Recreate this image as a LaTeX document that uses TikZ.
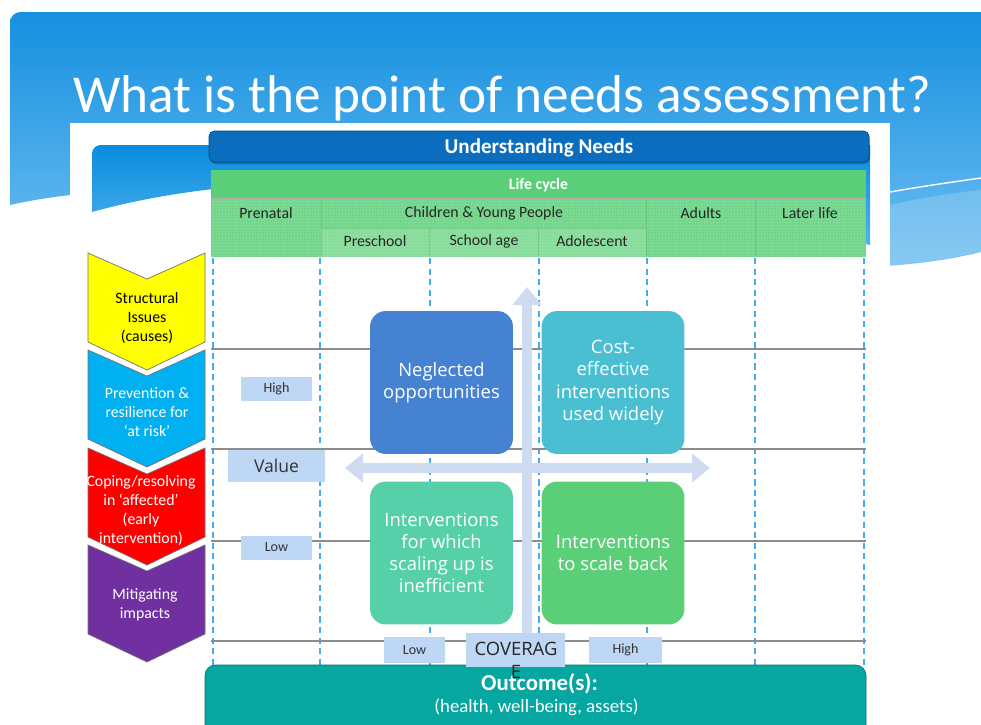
\documentclass[tikz,border=0pt]{standalone}
\usepackage{fontspec}
\setmainfont{Carlito}
\newfontfamily\quadfont{Open Sans}
\usepackage{tikz}
\usetikzlibrary{arrows.meta}
\definecolor{bgtop}{HTML}{1590E0}
\definecolor{bgbot}{HTML}{82C8F4}
\definecolor{innertop}{HTML}{0A8CDF}
\definecolor{innerbot}{HTML}{52B3EE}
\definecolor{headblue}{HTML}{0A6DBD}
\definecolor{lifegreen}{HTML}{5BCF78}
\definecolor{cellgreen}{HTML}{70D588}
\definecolor{subgreen}{HTML}{84DC98}
\definecolor{stageblue}{HTML}{45AAF2}
\definecolor{levelgray}{HTML}{8C8C8C}
\definecolor{chevyellow}{HTML}{FFFF00}
\definecolor{chevblue}{HTML}{00B0F0}
\definecolor{chevred}{HTML}{FF0000}
\definecolor{chevpurple}{HTML}{7030A0}
\definecolor{tagblue}{HTML}{BDD7F5}
\definecolor{neglect}{HTML}{4682D2}
\definecolor{costeff}{HTML}{4BBFD2}
\definecolor{ineff}{HTML}{55D0A8}
\definecolor{scaleback}{HTML}{5BCF78}
\definecolor{axisblue}{HTML}{CFDBF0}
\definecolor{outcome}{HTML}{06A6A1}
\tikzset{>=latex,
  stage/.style={stageblue, line width=0.9pt, dash pattern=on 3.5pt off 2.5pt},
  level/.style={levelgray, line width=1pt},
  cell/.style={font=\fontsize{9}{11}\selectfont, text=black!85},
  chevtext/.style={align=center, font=\fontsize{9}{10.8}\selectfont},
  tag/.style={fill=tagblue, inner sep=0pt, minimum width=1.42cm, minimum height=0.48cm,
    font=\fontsize{8}{9}\selectfont, text=black!80},
  quad/.style={rounded corners=9pt, minimum width=2.86cm, minimum height=2.86cm, inner sep=2pt,
    text=white, align=center, font=\quadfont\fontsize{10.5}{12.6}\selectfont},
  axis/.style={axisblue, line width=5.4pt}
}
\begin{document}
\begin{tikzpicture}[x=0.02cm, y=-0.02cm]
\useasboundingbox (0,0) rectangle (981,724);
\fill[white] (0,0) rectangle (981,724);
\shade[top color=bgtop, bottom color=bgbot] (10,205) [rounded corners=6pt]-- (10,12) [sharp corners]-- (981,12) -- (981,252)
  .. controls (700,320) and (300,140) .. (10,205) -- cycle;
\fill[white, opacity=0.18] (890,205) .. controls (930,196) and (960,192) .. (981,190) -- (981,252) .. controls (950,258) and (920,263) .. (890,267) -- cycle;
\draw[white, line width=0.8pt] (890,192) .. controls (930,185) and (960,181) .. (981,178);
\node[white, font=\fontsize{30.3}{36}\selectfont, anchor=base] (title) at (502,112) {What is the point of needs assessment?};
\fill[white] (70,123) rectangle (890,724);
\shade[top color=innertop, bottom color=innerbot] (92,212) [rounded corners=5pt]-- (92,145) [sharp corners]-- (870,145) -- (870,245)
  .. controls (500,165) and (250,168) .. (92,212) -- cycle;
\fill[black, opacity=0.25, rounded corners=3pt] (210,133) rectangle (870,164);
\fill[headblue, draw=headblue!70!black, rounded corners=3pt] (209,131) rectangle (869,162);
\node[white, font=\bfseries\fontsize{12}{14}\selectfont] (understand) at (539,148) {Understanding Needs};
\fill[lifegreen] (211,170) rectangle (866,198);
\node[white, font=\bfseries\fontsize{9}{11}\selectfont] (life) at (538.5,185) {Life cycle};
\fill[cellgreen] (211,198) rectangle (866,257);
\fill[subgreen] (321,228) rectangle (646,257);
\draw[white, opacity=0.1, step=0.06cm] (211,198) grid (866,257);
\draw[green!40!black, opacity=0.15] (321,198) -- (321,257) (646,198) -- (646,257) (755,198) -- (755,257)
  (429,228) -- (429,257) (538,228) -- (538,257) (321,228) -- (646,228);
\draw[black!30, line width=1.2pt] (211,199) -- (866,199);
\node[cell] (prenatal) at (266,213) {Prenatal};
\node[cell] (children) at (484,213) {Children \& Young People};
\node[cell] (adults) at (701,213) {Adults};
\node[cell] (later) at (810,213) {Later life};
\node[cell] (preschool) at (375,241) {Preschool};
\node[cell] (school) at (484,241) {School age};
\node[cell] (adolescent) at (592,241) {Adolescent};
\foreach \x in {213,320,430,539,647,755,864}
  \draw[stage] (\x,258) -- (\x,666);
\foreach \y in {349,449,541,641}
  \draw[level] (211,\y) -- (866,\y);
\foreach \t/\c in {253/chevyellow,350/chevblue,448/chevred,545/chevpurple}
  \filldraw[fill=\c, draw=black!55, line width=0.4pt] (88,\t) -- (147,\t+26) -- (205,\t) -- (205,\t+89) -- (147,\t+117) -- (88,\t+89) -- cycle;
\node[chevtext] (structural) at (147,318) {Structural\\Issues\\(causes)};
\node[chevtext, white] (prevention) at (147,412) {Prevention \&\\resilience for\\‘at risk’};
\node[chevtext, white] (coping) at (141,511) {Coping/resolving\\in ‘affected’\\(early\\intervention)};
\node[chevtext, white] (mitigating) at (145,605) {Mitigating\\impacts};
\node[quad, fill=neglect] (neglected) at (441.5,382.5) {Neglected\\opportunities};
\node[quad, fill=costeff] (costeffective) at (613,382.5) {Cost-\\effective\\interventions\\used widely};
\node[quad, fill=ineff] (inefficient) at (441.5,553) {Interventions\\for which\\scaling up is\\inefficient};
\node[quad, fill=scaleback] (scaleback) at (613,553) {Interventions\\to scale back};
\coordinate (vtop) at (527,287);
\coordinate (vbot) at (527,634);
\coordinate (hleft) at (345,468);
\coordinate (hright) at (710,468);
\draw[axis, -{Triangle[length=0.36cm, width=0.56cm]}] (vbot) -- (vtop);
\draw[axis, {Triangle[length=0.36cm, width=0.56cm]}-{Triangle[length=0.36cm, width=0.56cm]}] (hleft) -- (hright);
\node[tag] (vhigh) at (276.5,389) {High};
\node[tag, minimum width=1.94cm, minimum height=0.64cm, font=\quadfont\fontsize{10}{12}\selectfont] (value) at (276.5,466) {Value};
\node[tag] (vlow) at (276.5,547.5) {Low};
\fill[outcome, draw=outcome!70!black, rounded corners=6pt] (205,665) rectangle (866,740);
\node[white, font=\bfseries\fontsize{13}{15}\selectfont] (outcomes) at (539.5,684) {Outcome(s):};
\node[white, font=\fontsize{10.7}{13}\selectfont] (health) at (536.5,707) {(health, well-being, assets)};
\node[tag, minimum width=1.22cm, minimum height=0.52cm] (clow) at (414.5,650) {Low};
\node[tag, minimum width=1.46cm, minimum height=0.52cm] (chigh) at (625.5,650) {High};
\node[tag, minimum width=1.98cm, minimum height=0.68cm] (coverbox) at (515.5,650) {};
\node[anchor=north, inner sep=0pt, align=center, text=black!85, font=\quadfont\fontsize{10.5}{13}\selectfont] (coverage) at (516,642) {COVERAG\\E};
\end{tikzpicture}
\end{document}
